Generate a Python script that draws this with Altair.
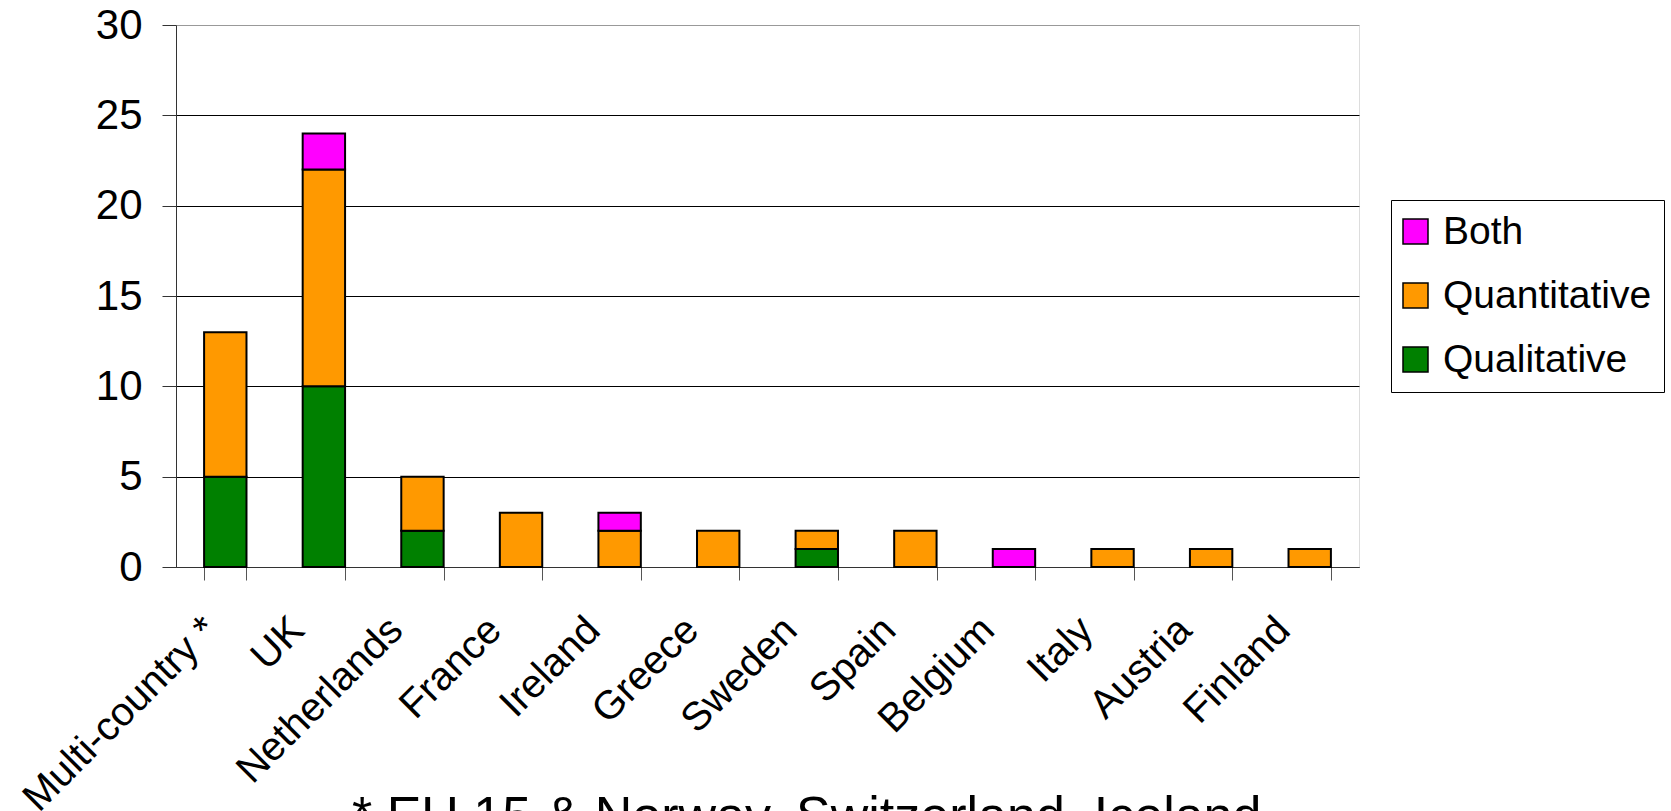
import altair as alt
import pandas as pd

countries = ["Multi-country *", "UK", "Netherlands", "France", "Ireland", "Greece",
             "Sweden", "Spain", "Belgium", "Italy", "Austria", "Finland"]
qualitative = [5, 10, 2, 0, 0, 0, 1, 0, 0, 0, 0, 0]
quantitative = [8, 12, 3, 3, 2, 2, 1, 2, 0, 1, 1, 1]
both = [0, 2, 0, 0, 1, 0, 0, 0, 1, 0, 0, 0]
series = ["Both", "Quantitative", "Qualitative"]
colors = ["#FF00FF", "#FF9900", "#008000"]
stack_rank = {"Qualitative": 0, "Quantitative": 1, "Both": 2}
y_ticks = [0, 5, 10, 15, 20, 25, 30]
footnote = ["* EU 15  & Norway,  Switzerland,  Iceland"]

rows = []
for i, c in enumerate(countries):
    for s, vals in (("Qualitative", qualitative), ("Quantitative", quantitative), ("Both", both)):
        if vals[i] > 0:
            rows.append({"country": c, "type": s, "count": vals[i], "rank": stack_rank[s]})
df = pd.DataFrame(rows)

FONT = "Liberation Sans"

bars = alt.Chart(df).mark_bar(stroke="black", strokeWidth=2, strokeJoin="miter").encode(
    x=alt.X("country:N", sort=countries,
            scale=alt.Scale(paddingInner=0.57, paddingOuter=0.285),
            axis=alt.Axis(title=None, labelAngle=-45, labelAlign="right", labelBaseline="alphabetic",
                          labelFontSize=40, labelFont=FONT, labelColor="black",
                          labelPadding=52,
                          labelOffset={"condition": {"test": "datum.value === 'Multi-country *'",
                                                     "value": -6},
                                       "value": -18},
                          tickBand="extent", tickSize=13,
                          tickColor="#555555", domainColor="#333333", grid=False,
                          labelOverlap=False, labelLimit=1000)),
    y=alt.Y("count:Q", stack="zero", scale=alt.Scale(domain=[0, 30], nice=False),
            axis=alt.Axis(title=None, values=y_ticks, labelFontSize=42, labelFont=FONT,
                          labelColor="black", tickSize=14, tickColor="#333333",
                          domainColor="#333333", labelPadding=20, grid=True,
                          gridColor={"condition": {"test": "datum.value == 30", "value": "#999999"},
                                     "value": "#000000"},
                          gridWidth=1)),
    color=alt.Color("type:N", scale=alt.Scale(domain=series, range=colors),
                    legend=alt.Legend(title=None, orient="none", legendX=1215, legendY=175,
                                      strokeColor="black", fillColor="white", padding=12,
                                      symbolType="square", symbolSize=625, symbolOffset=-7,
                                      symbolStrokeColor="black", symbolStrokeWidth=1.5,
                                      symbolOpacity=1, labelFontSize=39, labelFont=FONT,
                                      labelColor="black", rowPadding=24, labelOffset=8,
                                      labelLimit=1000)),
    order=alt.Order("rank:Q"),
)

note = alt.Chart(pd.DataFrame({"t": footnote})).mark_text(
    align="left", baseline="alphabetic", fontSize=52, font=FONT, color="black"
).encode(text="t:N", x=alt.value(176), y=alt.value(808))

chart = alt.layer(bars, note).properties(
    width=1183, height=542,
    autosize=alt.AutoSizeParams(type="none"),
    padding={"left": 176, "top": 25, "right": 312, "bottom": 244},
).configure_view(stroke="#999999", strokeWidth=2).configure(background="white")

chart.save("out.html", embed_options={"renderer": "svg", "actions": False})
